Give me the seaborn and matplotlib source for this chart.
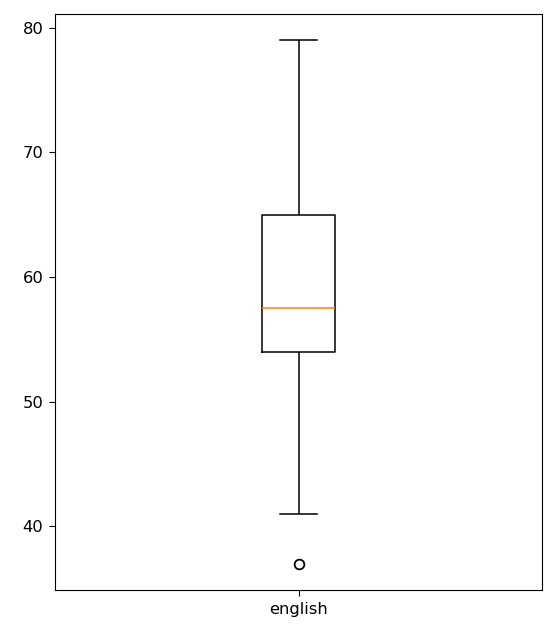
import pandas as pd
import matplotlib
matplotlib.use("Agg")
import matplotlib.pyplot as plt
import seaborn as sns

# Scores (gives Q1=54, median=57.5, Q3=65, whiskers 41/79, outlier 37)
english = [37, 41, 54, 56, 57.5, 60, 65, 72, 79]

df = pd.DataFrame({"english": english})

plt.rcParams["font.size"] = 11.8
plt.rcParams["xtick.major.size"] = 4.2
plt.rcParams["ytick.major.size"] = 4.2
plt.rcParams["xtick.major.pad"] = 4.2
plt.rcParams["ytick.major.pad"] = 4.2

fig, ax = plt.subplots(figsize=(5.52, 6.25), dpi=100)
fig.subplots_adjust(left=0.0996, right=0.982, top=0.9776, bottom=0.056)

line = dict(color="black", linewidth=1.1)
sns.boxplot(
    data=df, ax=ax, width=0.15, fill=False, color="black", linewidth=1.1,
    boxprops=line, whiskerprops=line, capprops=line,
    medianprops=dict(color="#ff7f0e", linewidth=1.1),
    flierprops=dict(marker="o", markerfacecolor="none", markeredgecolor="black",
                    markersize=7, markeredgewidth=1.3),
)
ax.set_xlim(-0.5, 0.5)
ax.set_xlabel("")
ax.set_ylabel("")

fig.savefig("out.png", dpi=100)
